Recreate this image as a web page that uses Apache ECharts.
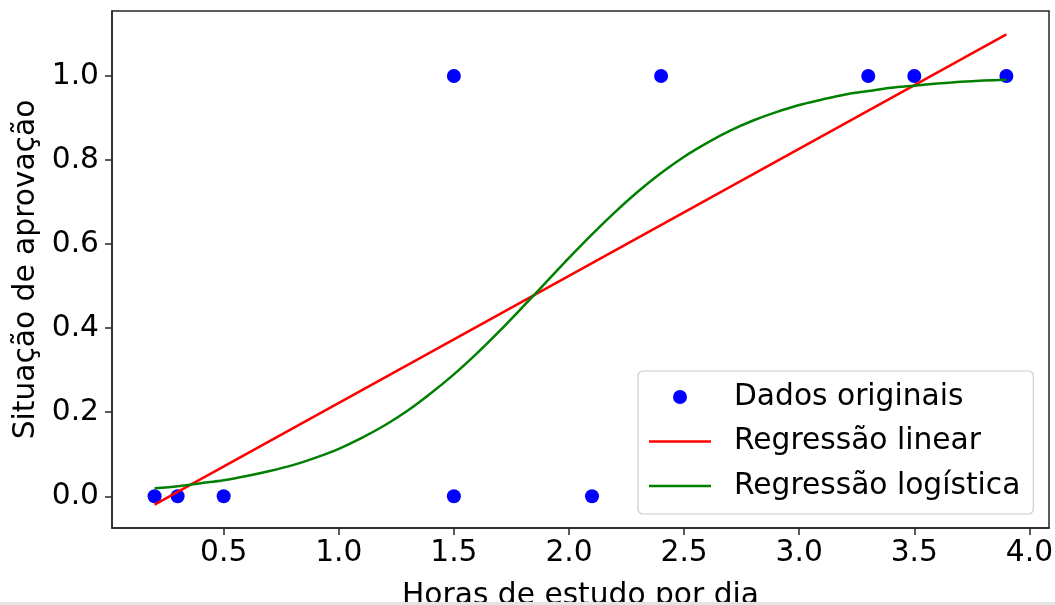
<!DOCTYPE html>
<html>
<head>
<meta charset="utf-8">
<script src="https://cdn.jsdelivr.net/npm/echarts@6/dist/echarts.min.js"></script>
<style>
html,body{margin:0;padding:0;background:#fff;}
#chart{width:1055px;height:605px;}
</style>
</head>
<body>
<div id="chart"></div>
<script>
// Observed data
const hoursX = [0.2, 0.3, 0.5, 1.5, 1.5, 2.1, 2.4, 3.3, 3.5, 3.9];
const passY  = [0, 0, 0, 1, 0, 0, 1, 1, 1, 1];

// Linear regression line
const linX = [0.2, 3.9];
const linY = [-0.02, 1.099];

// Logistic regression curve
const logX = [0.2,0.3,0.4,0.5,0.6,0.7,0.8,0.9,1.0,1.1,1.2,1.3,1.4,1.5,1.6,1.7,1.8,1.9,2.0,2.1,2.2,2.3,2.4,2.5,2.6,2.7,2.8,2.9,3.0,3.1,3.2,3.3,3.4,3.5,3.6,3.7,3.8,3.9];
const logY = [0.019,0.024,0.031,0.038,0.048,0.060,0.074,0.092,0.113,0.139,0.169,0.204,0.245,0.290,0.340,0.394,0.451,0.509,0.567,0.623,0.676,0.725,0.769,0.808,0.841,0.870,0.894,0.914,0.931,0.944,0.956,0.964,0.972,0.977,0.982,0.986,0.989,0.991];

// Tick labels
const xTicks = [0.5, 1.0, 1.5, 2.0, 2.5, 3.0, 3.5, 4.0];
const yTicks = [0.0, 0.2, 0.4, 0.6, 0.8, 1.0];

// Names
const seriesNames = ['Dados originais', 'Regressão linear', 'Regressão logística'];
const xName = 'Horas de estudo por dia';
const yName = 'Situação de aprovação';

const FONT = 'DejaVu Sans';
const FS = 29.7;
const AX = '#262626';
const LINE_ICON = 'path://M0,0L62,0L62,2.5L0,2.5Z';

const zip = (a, b) => a.map((v, i) => [v, b[i]]);

const chart = echarts.init(document.getElementById('chart'), null, {renderer: 'canvas'});
chart.setOption({
  animation: false,
  backgroundColor: '#ffffff',
  grid: {
    left: 112, top: 11, right: 6, bottom: 77,
    containLabel: false, outerBoundsMode: 'none',
    show: true, borderColor: AX, borderWidth: 1.5, backgroundColor: 'transparent'
  },
  xAxis: {
    type: 'value',
    min: 0.015, max: 4.085,
    name: xName, nameLocation: 'middle', nameGap: 53,
    nameTextStyle: {fontFamily: FONT, fontSize: FS, color: '#000'},
    axisLine: {show: true, onZero: false, lineStyle: {color: AX, width: 1.5}},
    axisTick: {show: true, length: 7, inside: false, customValues: xTicks, lineStyle: {color: AX, width: 1.5}},
    axisLabel: {
      customValues: xTicks, margin: 10,
      fontFamily: FONT, fontSize: FS, color: '#000',
      formatter: v => Number(v).toFixed(1)
    },
    splitLine: {show: false}
  },
  yAxis: {
    type: 'value',
    min: -0.0755, max: 1.1546,
    name: yName, nameLocation: 'middle', nameGap: 67, nameRotate: 90,
    nameTextStyle: {fontFamily: FONT, fontSize: FS, color: '#000'},
    axisLine: {show: true, onZero: false, lineStyle: {color: AX, width: 1.5}},
    axisTick: {show: true, length: 7, inside: false, customValues: yTicks, lineStyle: {color: AX, width: 1.5}},
    axisLabel: {
      customValues: yTicks, margin: 13,
      fontFamily: FONT, fontSize: FS, color: '#000',
      formatter: v => Number(v).toFixed(1)
    },
    splitLine: {show: false}
  },
  legend: {
    orient: 'vertical',
    left: 638, top: 371,
    padding: [9, 13, 11, 11],
    itemWidth: 62, itemHeight: 14, itemGap: 10.5,
    backgroundColor: 'rgba(255,255,255,0.8)',
    borderColor: '#cccccc', borderWidth: 1.2, borderRadius: 5,
    data: [
      {name: seriesNames[0], icon: 'circle'},
      {name: seriesNames[1], icon: LINE_ICON},
      {name: seriesNames[2], icon: LINE_ICON}
    ],
    formatter: '{t|{name}}',
    textStyle: {
      fontFamily: FONT, fontSize: FS, color: '#000', lineHeight: 34,
      rich: {t: {fontFamily: FONT, fontSize: FS, color: '#000', lineHeight: 34, padding: [0, 0, 0, 18]}}
    }
  },
  series: [
    {
      name: seriesNames[0], type: 'scatter',
      data: zip(hoursX, passY),
      symbol: 'circle', symbolSize: 14,
      itemStyle: {color: '#0000ff', opacity: 1},
      z: 2
    },
    {
      name: seriesNames[1], type: 'line',
      data: zip(linX, linY),
      symbol: 'none', showSymbol: false,
      lineStyle: {color: '#ff0000', width: 2.5},
      itemStyle: {color: '#ff0000'},
      z: 3
    },
    {
      name: seriesNames[2], type: 'line',
      data: zip(logX, logY),
      symbol: 'none', showSymbol: false, smooth: 0.3,
      lineStyle: {color: '#008000', width: 2.5},
      itemStyle: {color: '#008000'},
      z: 4
    }
  ],
  graphic: [
    {type: 'rect', left: 0, top: 602, shape: {width: 1055, height: 3}, style: {fill: '#e4e4e4'}, z: 100}
  ]
});
</script>
</body>
</html>
